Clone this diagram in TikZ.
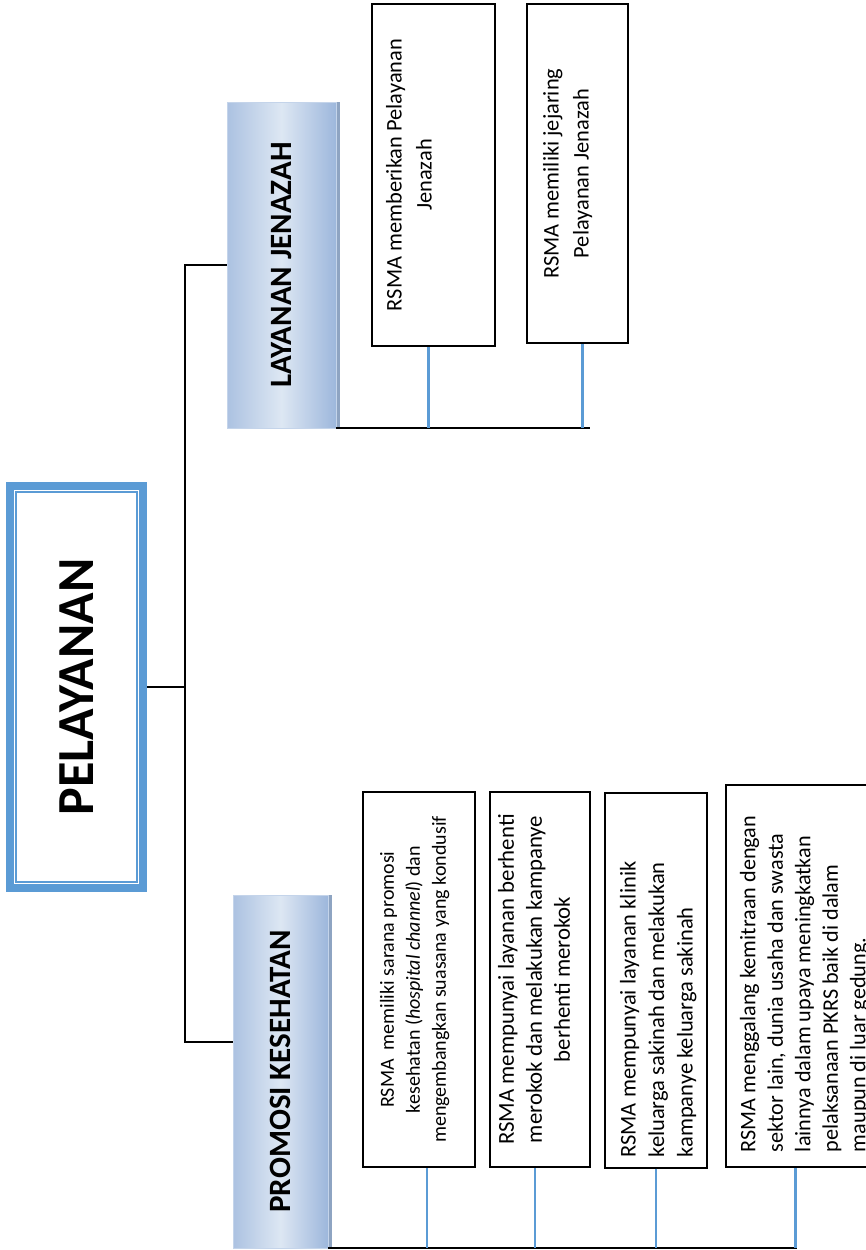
\documentclass[tikz,border=0pt]{standalone}
\usepackage{fontspec}
\setmainfont{Carlito}
\usepackage{graphicx}
\usetikzlibrary{positioning,shadows}

\definecolor{biru}{HTML}{5B9BD5}
\definecolor{birumuda}{HTML}{DDE7F3}
\definecolor{birutua}{HTML}{9DB7DC}
\definecolor{bayang}{HTML}{8EA4C2}

% teks tegak: lebar, tinggi, isi
\newcommand{\tegak}[3]{\rotatebox{90}{\parbox[c][#2][t]{#1}{#3}}}

\tikzset{
  kotak/.style={draw=black, line width=2pt, fill=white, inner sep=0pt},
  judul/.style={left color=birutua!85, right color=birutua, middle color=birumuda,
    draw=birutua!60, line width=0.8pt, inner sep=0pt,
    general shadow={fill=bayang, shadow xshift=4pt},
    font=\fontsize{31}{36}\selectfont\bfseries},
  garis/.style={line width=2pt, black},
  ranting/.style={line width=2.5pt, biru},
}

\begin{document}
\begin{tikzpicture}[x=1pt,y=-1pt]
\useasboundingbox (0,0) rectangle (866,1250);

% pusat
\node[draw=biru, line width=8pt, minimum width=133pt, minimum height=402pt, inner sep=0pt, fill=white]
  (utama) at (76.5,687) {\rotatebox{90}{\fontsize{52}{60}\selectfont\bfseries PELAYANAN}};
\draw[biru, line width=1.8pt] ([shift={(10,10)}]utama.north west) rectangle ([shift={(-10,-10)}]utama.south east);

% cabang
\node[judul, minimum width=109pt, minimum height=326pt] (layanan) at (281.5,265) {\rotatebox{90}{LAYANAN JENAZAH}};
\node[judul, minimum width=95pt, minimum height=353pt] (promosi) at (280.5,1071.5) {\rotatebox{90}{PROMOSI KESEHATAN}};

% isi layanan jenazah
\node[kotak, minimum width=123pt, minimum height=342pt, font=\fontsize{22.4}{30}\selectfont]
  (jen1) at (433.5,175) {\tegak{310pt}{95pt}{\centering RSMA memberikan Pelayanan\\ Jenazah}};
\node[kotak, minimum width=101pt, minimum height=339pt, font=\fontsize{22.4}{30}\selectfont]
  (jen2) at (577.5,173.5) {\tegak{310pt}{69pt}{\centering RSMA memiliki jejaring\\ Pelayanan Jenazah}};

% isi promosi kesehatan
\node[kotak, minimum width=112pt, minimum height=375pt, font=\fontsize{20}{26}\selectfont]
  (pro1) at (419,979.5) {\tegak{350pt}{78pt}{\centering RSMA\ \ memiliki sarana promosi\\ kesehatan (\textit{hospital channel}) dan\\ mengembangkan suasana yang kondusif}};
\node[kotak, minimum width=100pt, minimum height=375pt, font=\fontsize{22.8}{28}\selectfont]
  (pro2) at (540,979.5) {\tegak{362pt}{84pt}{\centering RSMA mempunyai layanan berhenti\\ merokok dan melakukan kampanye\\ berhenti merokok}};
\node[kotak, minimum width=102pt, minimum height=375pt, font=\fontsize{22.5}{28.5}\selectfont]
  (pro3) at (656,980) {\tegak{355pt}{72pt}{\raggedright RSMA mempunyai layanan klinik\\ keluarga sakinah dan melakukan\\ kampanye keluarga sakinah}};
\node[kotak, minimum width=159pt, minimum height=382pt, font=\fontsize{22.2}{27.5}\selectfont]
  (pro4) at (805.5,976) {\tegak{352pt}{131pt}{\raggedright RSMA menggalang kemitraan dengan\\ sektor lain, dunia usaha dan swasta\\ lainnya dalam upaya meningkatkan\\ pelaksanaan PKRS baik di dalam\\ maupun di luar gedung.}};

% penghubung
\draw[garis] (utama.east) -- ++(38,0) coordinate (simpul);
\draw[garis] (layanan.west) -| (simpul) |- (promosi.west |- 0,1042);
\draw[garis] (layanan.south east) -- ++(254,0);
\draw[garis] (promosi.south east) -- ++(469,0);
\foreach \kotak/\geser in {jen1/-5pt, jen2/5pt}
  \draw[ranting] ([xshift=\geser]\kotak.south) -- ([xshift=\geser]\kotak.south |- layanan.south);
\foreach \kotak/\geser in {pro1/8pt, pro2/-5pt, pro3/0pt, pro4/-10pt}
  \draw[ranting] ([xshift=\geser]\kotak.south) -- ([xshift=\geser]\kotak.south |- promosi.south);
\end{tikzpicture}
\end{document}
